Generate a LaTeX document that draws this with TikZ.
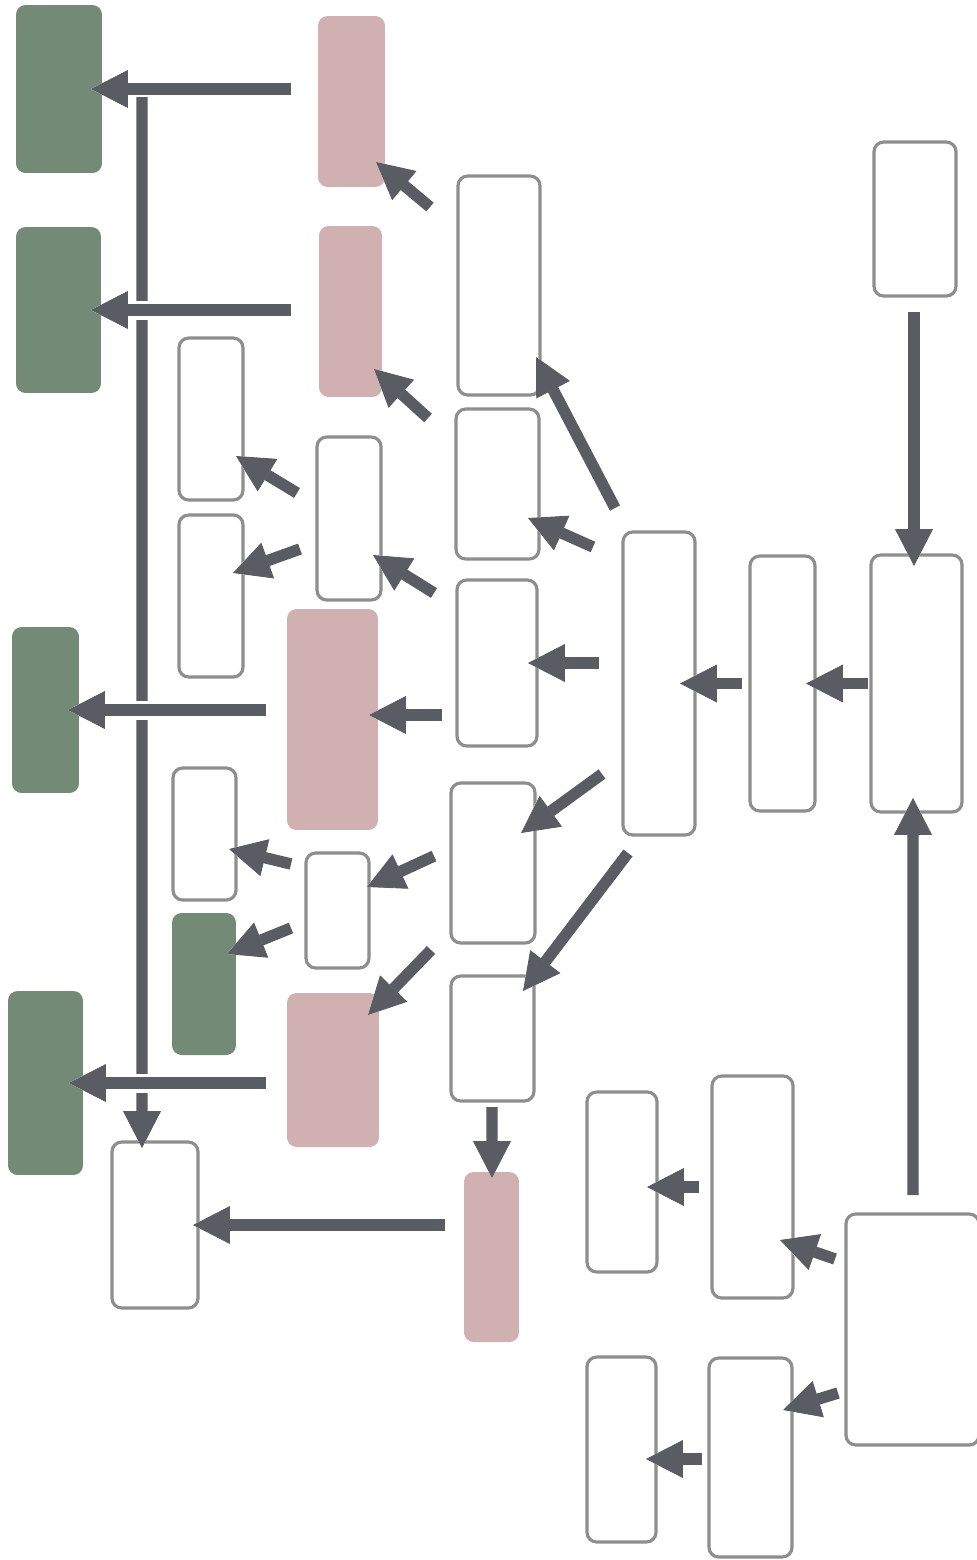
\documentclass[tikz,border=0pt]{standalone}
\usetikzlibrary{arrows.meta}
\definecolor{boxgreen}{RGB}{115,138,119}
\definecolor{boxpink}{RGB}{208,176,176}
\definecolor{arrgray}{RGB}{89,92,99}
\definecolor{edgegray}{RGB}{142,142,142}
\tikzset{
  box/.style={rectangle, rounded corners=5.5pt, inner sep=0pt, outer sep=0pt},
  wbox/.style={box, draw=edgegray, line width=1.8pt, fill=white},
  pbox/.style={box, fill=boxpink},
  gbox/.style={box, fill=boxgreen},
  arr/.style={arrgray, line width=6.5pt, -{Triangle[width=21.5pt,length=21pt,line width=0.5pt]},
    preaction={draw=white, line width=8.3pt, -{Triangle[width=24.5pt,length=23.5pt,line width=0.5pt]}}},
  gap/.style={white, line width=7.8pt}
}
\begin{document}
\begin{tikzpicture}[x=0.02cm, y=-0.02cm]
            \useasboundingbox (0,0) rectangle (977,1560);
            % green blocks
            \node[gbox, minimum width=1.72cm, minimum height=3.36cm] (g1) at (59,89) {};
            \node[gbox, minimum width=1.70cm, minimum height=3.32cm] (g2) at (58.5,310) {};
            \node[gbox, minimum width=1.34cm, minimum height=3.32cm] (g3) at (45.5,710) {};
            \node[gbox, minimum width=1.28cm, minimum height=2.84cm] (g4) at (204,984) {};
            \node[gbox, minimum width=1.50cm, minimum height=3.68cm] (g5) at (45.5,1083) {};
            % pink blocks
            \node[pbox, minimum width=1.34cm, minimum height=3.42cm] (p1) at (351.5,101.5) {};
            \node[pbox, minimum width=1.26cm, minimum height=3.42cm] (p2) at (350.5,311.5) {};
            \node[pbox, minimum width=1.82cm, minimum height=4.42cm] (p3) at (332.5,719.5) {};
            \node[pbox, minimum width=1.84cm, minimum height=3.08cm] (p4) at (333,1070) {};
            \node[pbox, minimum width=1.10cm, minimum height=3.40cm] (p5) at (491.5,1257) {};
            % white blocks
            \node[wbox, minimum width=1.64cm, minimum height=3.08cm] (w1) at (915,219) {};
            \node[wbox, minimum width=1.64cm, minimum height=4.38cm] (w2) at (499,285.5) {};
            \node[wbox, minimum width=1.28cm, minimum height=3.24cm] (w3) at (211,419) {};
            \node[wbox, minimum width=1.28cm, minimum height=3.26cm] (w4) at (349,518.5) {};
            \node[wbox, minimum width=1.66cm, minimum height=3.00cm] (w5) at (497.5,484) {};
            \node[wbox, minimum width=1.28cm, minimum height=3.24cm] (w6) at (211,596) {};
            \node[wbox, minimum width=1.60cm, minimum height=3.32cm] (w7) at (497,663) {};
            \node[wbox, minimum width=1.44cm, minimum height=6.06cm] (w8) at (659,683.5) {};
            \node[wbox, minimum width=1.30cm, minimum height=5.10cm] (w9) at (782.5,683.5) {};
            \node[wbox, minimum width=1.82cm, minimum height=5.14cm] (w10) at (916.5,683.5) {};
            \node[wbox, minimum width=1.26cm, minimum height=2.64cm] (w11) at (204.5,834) {};
            \node[wbox, minimum width=1.26cm, minimum height=2.30cm] (w12) at (337.5,910.5) {};
            \node[wbox, minimum width=1.68cm, minimum height=3.20cm] (w13) at (493,863) {};
            \node[wbox, minimum width=1.66cm, minimum height=2.50cm] (w14) at (492.5,1038.5) {};
            \node[wbox, minimum width=1.72cm, minimum height=3.32cm] (w15) at (155,1225) {};
            \node[wbox, minimum width=1.40cm, minimum height=3.60cm] (w16) at (622,1182) {};
            \node[wbox, minimum width=1.62cm, minimum height=4.44cm] (w17) at (752.5,1187) {};
            \node[wbox, minimum width=2.66cm, minimum height=4.62cm] (w18) at (912.5,1329.5) {};
            \node[wbox, minimum width=1.38cm, minimum height=3.70cm] (w19) at (621.5,1449.5) {};
            \node[wbox, minimum width=1.66cm, minimum height=3.98cm] (w20) at (750.5,1457.5) {};
            % long vertical line on the left
            \coordinate (vtop) at ([shift={(40,8)}]g1.east);
            \draw[arr] (vtop) -- ([shift={(-13,6)}]w15.north);
            \draw[gap] (vtop |- g2.east) ++(0,-9.5) -- ++(0,19);
            \draw[gap] (vtop |- g3.east) ++(0,-9.5) -- ++(0,19);
            \draw[gap] (vtop |- g5.east) ++(0,-9.5) -- ++(0,19);
            % into the green blocks
            \draw[arr] ([shift={(-27,-12.5)}]p1.west) -- ([shift={(-11,0)}]g1.east);
            \draw[arr] ([shift={(-28,-1.5)}]p2.west) -- ([shift={(-10,0)}]g2.east);
            \draw[arr] ([shift={(-21,-9.5)}]p3.west) -- ([shift={(-11,0)}]g3.east);
            \draw[arr] ([shift={(-21,13)}]p4.west) -- ([shift={(-14,0)}]g5.east);
            \draw[arr] ([shift={(-15,17.5)}]w12.west) -- ([shift={(-9,-30)}]g4.east);
            % middle
            \draw[arr] ([shift={(-28,-78.5)}]w2.west) -- ([shift={(-9,60.5)}]p1.east);
            \draw[arr] ([shift={(-28,-66)}]w5.west) -- ([shift={(-8,57.5)}]p2.east);
            \draw[arr] ([shift={(-20,-25.5)}]w4.west) -- ([shift={(-7,37)}]w3.east);
            \draw[arr] ([shift={(-17,30.5)}]w4.west) -- ([shift={(-10,-23)}]w6.east);
            \draw[arr] ([shift={(-23,-70)}]w7.west) -- ([shift={(-8,36.5)}]w4.east);
            \draw[arr] ([shift={(-15,52)}]w7.west) -- ([shift={(-9,-4.5)}]p3.east);
            \draw[arr] ([shift={(-44,-24)}]w8.north) -- ([shift={(-4,71.5)}]w2.east);
            \draw[arr] ([shift={(-30,-136.5)}]w8.west) -- ([shift={(-11,34)}]w5.east);
            \draw[arr] ([shift={(-24,-20.5)}]w8.west) -- ([shift={(-9,0)}]w7.east);
            \draw[arr] ([shift={(-21,90.5)}]w8.west) -- ([shift={(-14,-30)}]w13.east);
            \draw[arr] ([shift={(-31,18)}]w8.south) -- ([shift={(-11,-47.5)}]w14.east);
            \draw[arr] ([shift={(-15,-46.5)}]w12.west) -- ([shift={(-7,15)}]w11.east);
            \draw[arr] ([shift={(-17,-7)}]w13.west) -- ([shift={(-2,-23.5)}]w12.east);
            \draw[arr] ([shift={(-20,87)}]w13.west) -- ([shift={(-11,-55)}]p4.east);
            \draw[arr] ([shift={(-0.5,6)}]w14.south) -- ([shift={(0.5,6)}]p5.north);
            \draw[arr] ([shift={(-19,-32)}]p5.west) -- ([shift={(-5,0)}]w15.east);
            % right column
            \draw[arr] ([shift={(-8,0)}]w9.west) -- ([shift={(-15,0)}]w8.east);
            \draw[arr] ([shift={(-3,0)}]w10.west) -- ([shift={(-9,0)}]w9.east);
            \draw[arr] ([shift={(-1,16)}]w1.south) -- ([shift={(-2.5,11)}]w10.north);
            \draw[arr] ([shift={(0.5,-19)}]w18.north) -- ([shift={(-3.5,-14)}]w10.south);
            % bottom right
            \draw[arr] ([shift={(-13,0)}]w17.west) -- ([shift={(-10,5)}]w16.east);
            \draw[arr] ([shift={(-11,-70.5)}]w18.west) -- ([shift={(-13,53)}]w17.east);
            \draw[arr] ([shift={(-8,63.5)}]w18.west) -- ([shift={(-9,-47.5)}]w20.east);
            \draw[arr] ([shift={(-7,1.5)}]w20.west) -- ([shift={(-10,9.5)}]w19.east);
\end{tikzpicture}
\end{document}
